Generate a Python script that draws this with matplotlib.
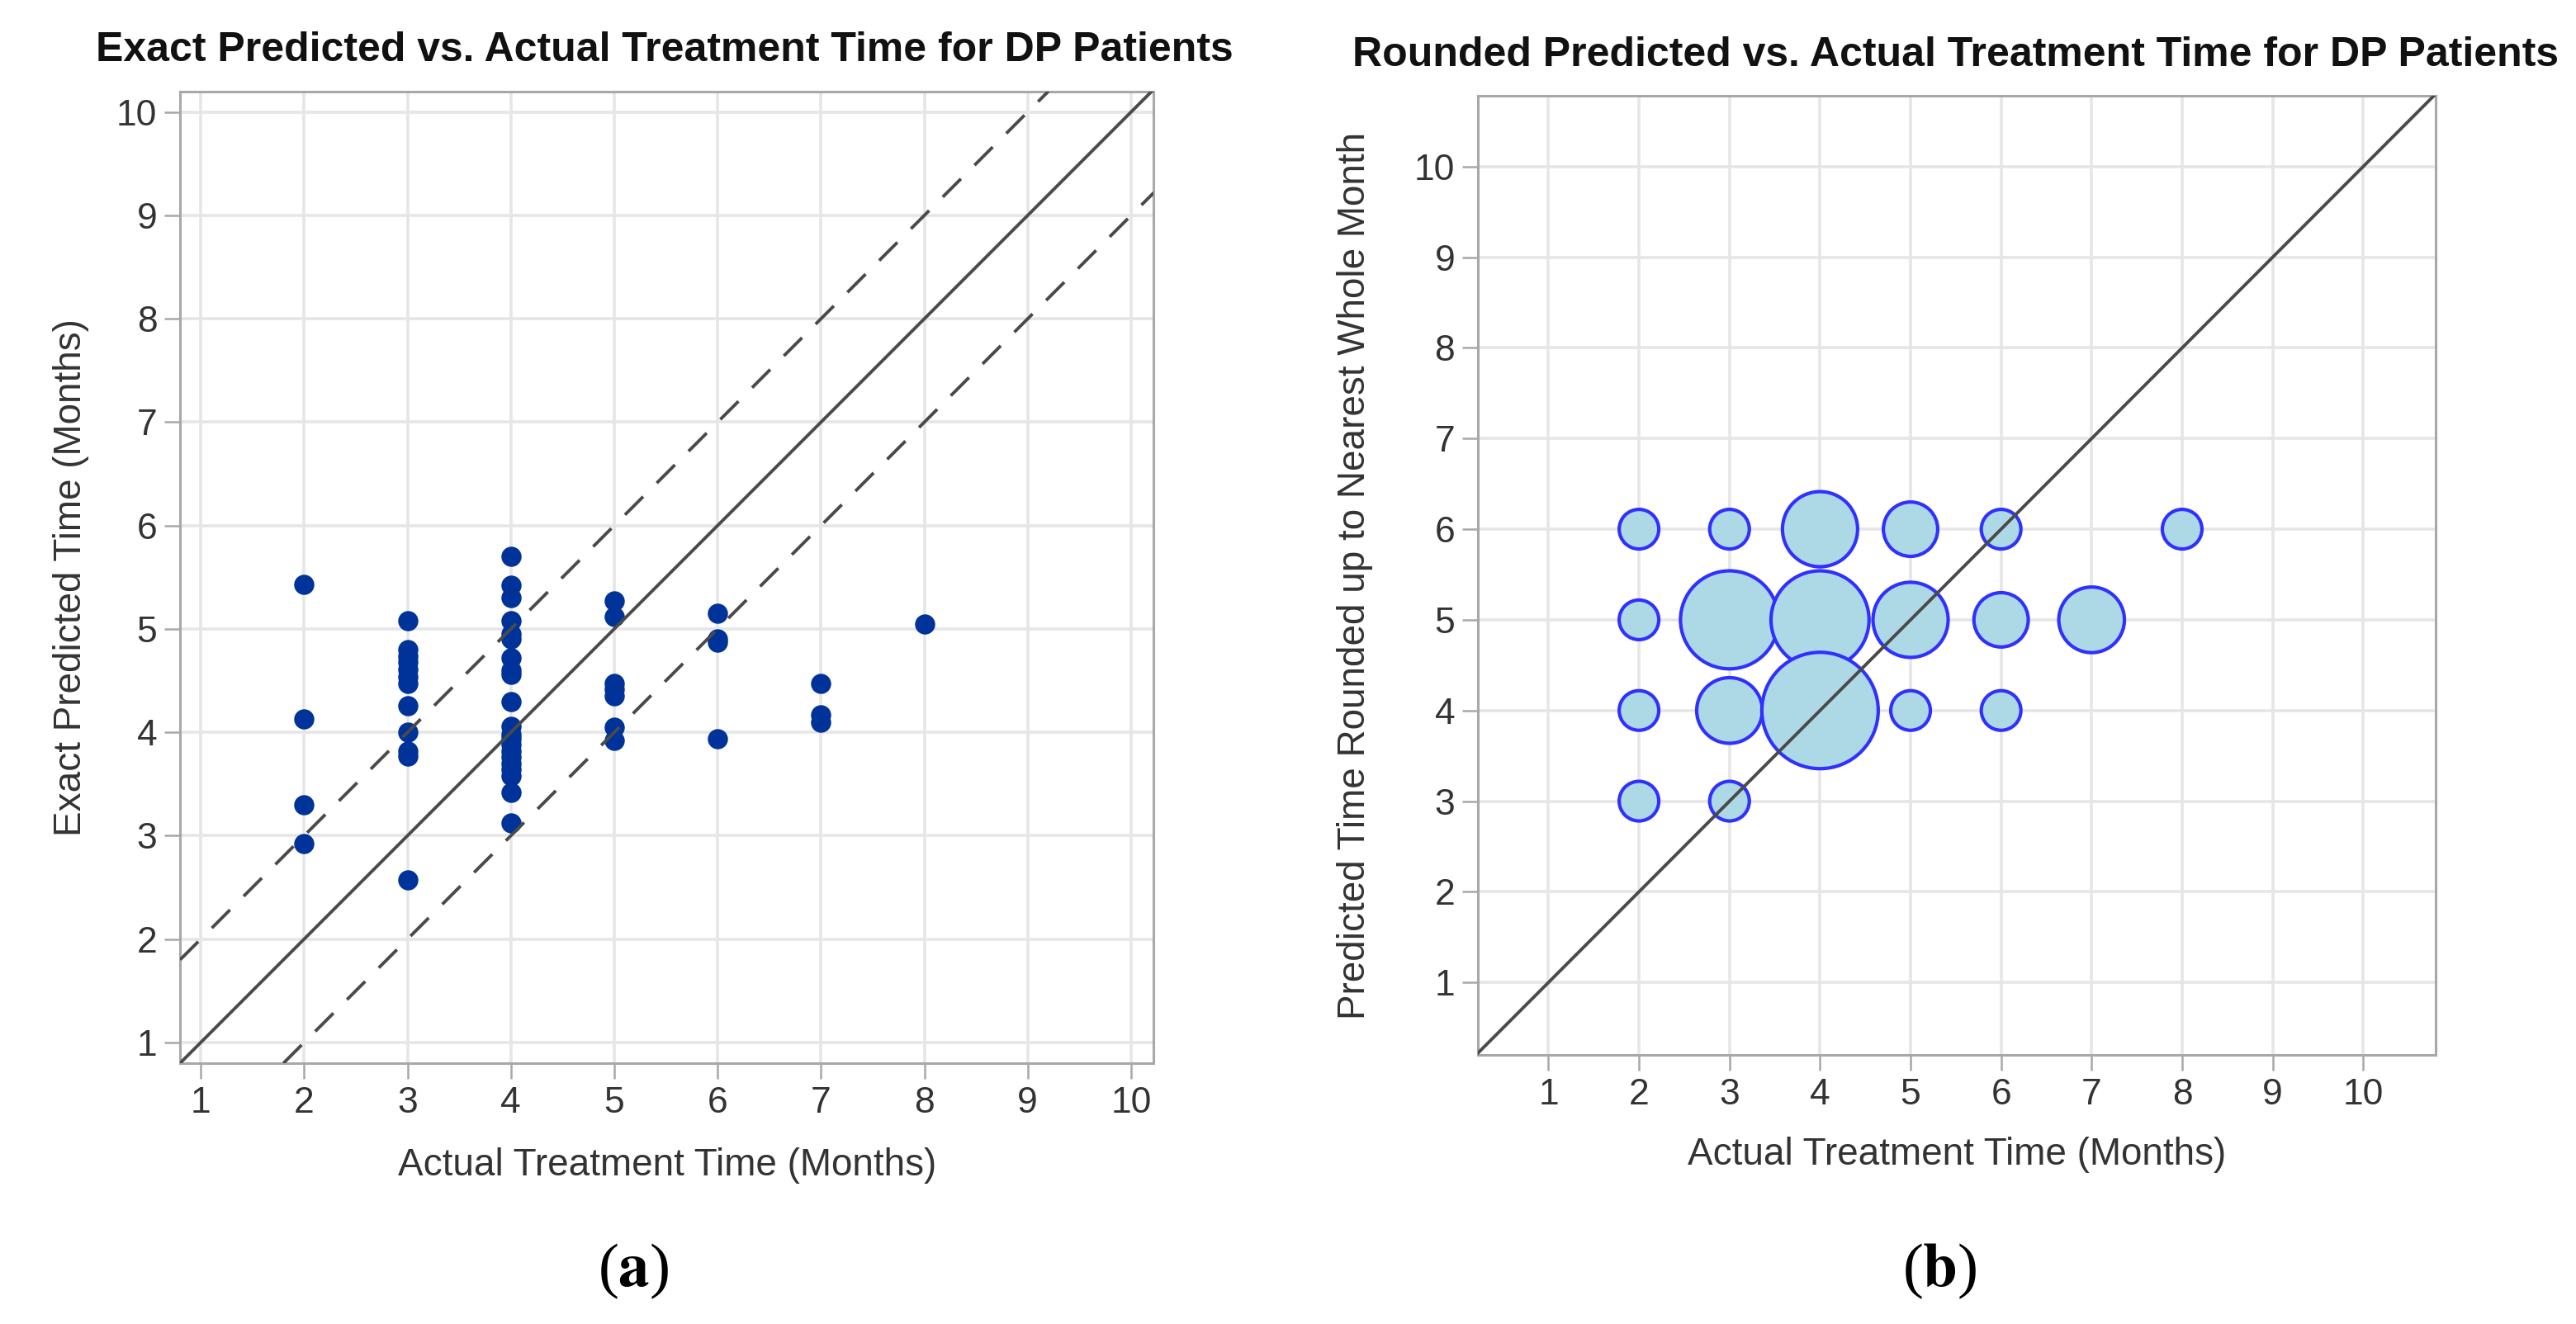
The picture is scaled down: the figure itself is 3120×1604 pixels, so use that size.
import numpy as np
import matplotlib
matplotlib.use('Agg')
import matplotlib.pyplot as plt

plt.rcParams['font.family'] = ['Liberation Sans', 'DejaVu Sans']
plt.rcParams['mathtext.fontset'] = 'stix'

# panel (a): exact predicted time per patient, grouped by actual time
actual_2 = [5.43, 4.13, 3.30, 2.92]
actual_3 = [5.08, 4.80, 4.74, 4.68, 4.61, 4.54, 4.47, 4.26, 4.00, 3.82, 3.77, 2.57]
actual_4 = [5.70, 5.42, 5.30, 5.08, 4.95, 4.90, 4.72, 4.60, 4.56, 4.30, 4.06,
            3.98, 3.94, 3.88, 3.82, 3.76, 3.70, 3.64, 3.58, 3.42, 3.12]
actual_5 = [5.27, 5.12, 4.47, 4.42, 4.35, 4.05, 3.92]
actual_6 = [5.15, 4.90, 4.87, 3.94]
actual_7 = [4.47, 4.17, 4.10]
actual_8 = [5.05]
groups = {2: actual_2, 3: actual_3, 4: actual_4, 5: actual_5,
          6: actual_6, 7: actual_7, 8: actual_8}

# panel (b): rounded-up predicted time, bubble = number of patients
bub_actual = [2, 3, 4, 5, 6, 8, 2, 3, 4, 5, 6, 7, 2, 3, 4, 5, 6, 2, 3]
bub_pred = [6, 6, 6, 6, 6, 6, 5, 5, 5, 5, 5, 5, 4, 4, 4, 4, 4, 3, 3]
bub_count = [1, 1, 4, 2, 1, 1, 1, 7, 7, 4, 2, 3, 1, 3, 10, 1, 1, 1, 1]

ticks = list(range(1, 11))
DPI = 200
grid_c = '#e6e6e6'
frame_c = '#a8a8a8'
text_c = '#333333'
line_c = '#4a4a4a'


def style_axes(ax):
    ax.set_xticks(ticks)
    ax.set_yticks(ticks)
    ax.grid(True, color=grid_c, linewidth=1.3, zorder=0)
    ax.set_axisbelow(True)
    for s in ax.spines.values():
        s.set_color(frame_c)
        s.set_linewidth(1.1)
    ax.tick_params(colors=frame_c, labelcolor=text_c, labelsize=16,
                   length=7, width=0.9, pad=3)


def main():
    fig = plt.figure(figsize=(3120 / DPI, 1604 / DPI), dpi=DPI)

    # ---------- (a)
    ax1 = fig.add_axes([0.0699, 0.197, 0.378, 0.734])
    for x, vals in groups.items():
        ax1.plot([x] * len(vals), vals, 'o', color='#003399', markersize=8.8,
                 markeredgewidth=0, zorder=2)
    ax1.axline((0, 0), (1, 1), color=line_c, linewidth=1.4, zorder=3)
    ax1.axline((0, 1), (1, 2), color=line_c, linewidth=1.4, dashes=(8, 6), zorder=3)
    ax1.axline((0, -1), (1, 0), color=line_c, linewidth=1.4, dashes=(8, 6), zorder=3)
    ax1.set_xlim(0.8, 10.22)
    ax1.set_ylim(0.8, 10.2)
    style_axes(ax1)
    ax1.set_xlabel('Actual Treatment Time (Months)', fontsize=16.5, color=text_c, labelpad=12)
    ax1.set_ylabel('Exact Predicted Time (Months)', fontsize=16.5, color=text_c, labelpad=12)
    fig.text(0.258, 0.962, 'Exact Predicted vs. Actual Treatment Time for DP Patients',
             ha='center', va='center', fontsize=18, fontweight='bold', color='#111111')

    # ---------- (b)
    ax2 = fig.add_axes([0.5737, 0.2032, 0.3718, 0.7244])
    r_px = 2.5 + 21.5 * np.sqrt(np.array(bub_count, dtype=float))
    diam_pt = 2 * r_px * 72.0 / DPI
    ax2.scatter(bub_actual, bub_pred, s=diam_pt ** 2, facecolor='#add8e6',
                edgecolor='#3030ff', linewidth=1.5, zorder=2)
    ax2.axline((0, 0), (1, 1), color=line_c, linewidth=1.4, zorder=3)
    ax2.set_xlim(0.22, 10.8)
    ax2.set_ylim(0.2, 10.78)
    style_axes(ax2)
    ax2.set_xlabel('Actual Treatment Time (Months)', fontsize=16.5, color=text_c, labelpad=11)
    ax2.set_ylabel('Predicted Time Rounded up to Nearest Whole Month', fontsize=16.5,
                   color=text_c, labelpad=18)
    fig.text(0.759, 0.958, 'Rounded Predicted vs. Actual Treatment Time for DP Patients',
             ha='center', va='center', fontsize=18, fontweight='bold', color='#111111')

    # panel letters
    fig.text(0.246, 0.04, r'($\mathbf{a}$)', ha='center', va='center', fontsize=27,
             family='Liberation Serif')
    fig.text(0.753, 0.04, r'($\mathbf{b}$)', ha='center', va='center', fontsize=27,
             family='Liberation Serif')

    fig.savefig('out.png', dpi=DPI, facecolor='white')


if __name__ == '__main__':
    main()
